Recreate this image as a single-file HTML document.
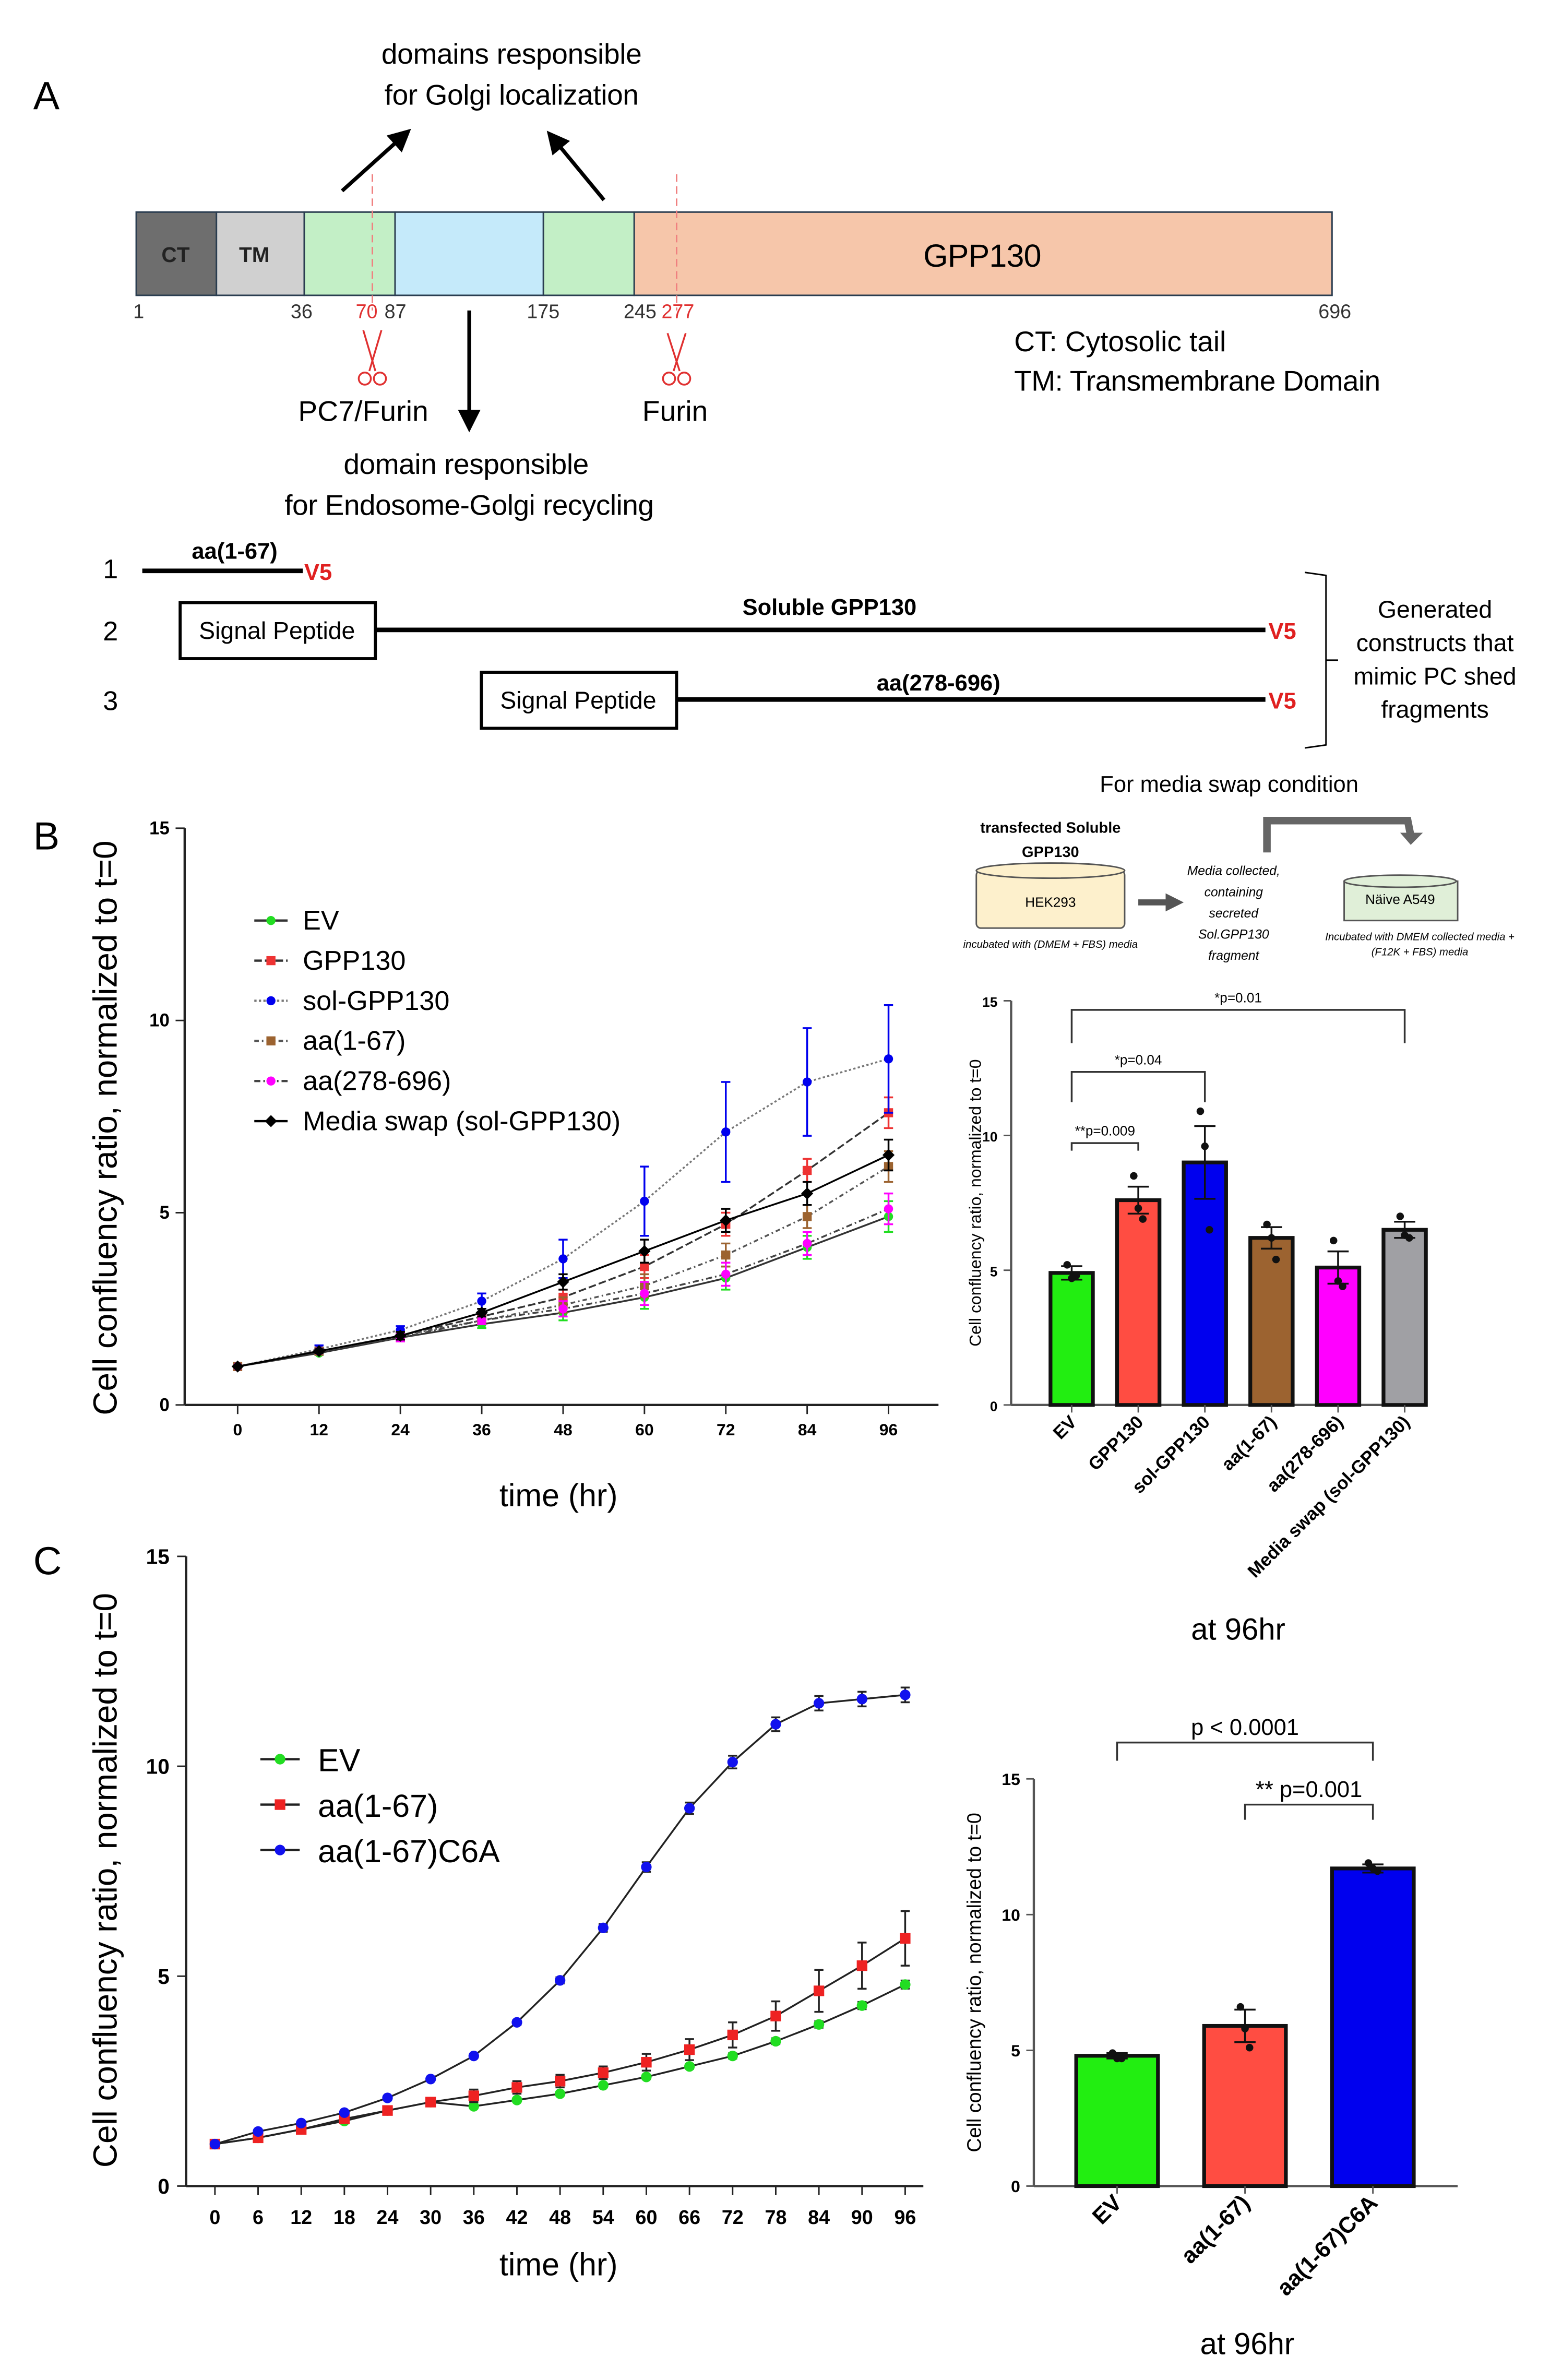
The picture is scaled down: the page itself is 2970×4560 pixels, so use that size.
<!DOCTYPE html>
<html><head><meta charset="utf-8"><style>
html,body{margin:0;padding:0;background:#fff}
svg{display:block}
text{font-family:"Liberation Sans",sans-serif}
</style></head><body>
<svg id="fig" width="2970" height="4560" viewBox="0 0 1024 1572" xmlns="http://www.w3.org/2000/svg">
<rect width="1024" height="1572" fill="#fff"/>
<defs>
<marker id="ah" markerWidth="6" markerHeight="6" refX="3" refY="3" orient="auto"><path d="M0,0 L6,3 L0,6 z" fill="#000"/></marker>
<marker id="ah2" markerWidth="3" markerHeight="3" refX="1.5" refY="1.5" orient="auto"><path d="M0,0 L3,1.5 L0,3 z" fill="#555"/></marker>
</defs>
<!-- Panel A -->
<g>
<text x="22" y="72" font-size="26">A</text>
<text x="338" y="42" font-size="19" text-anchor="middle" textLength="172">domains responsible</text>
<text x="338" y="69" font-size="19" text-anchor="middle" textLength="168">for Golgi localization</text>
<line x1="226" y1="126" x2="266" y2="90" stroke="#000" stroke-width="2.5" marker-end="url(#ah)"/>
<line x1="399" y1="132" x2="366" y2="92" stroke="#000" stroke-width="2.5" marker-end="url(#ah)"/>
<g stroke="#2a3d50" stroke-width="1">
<rect x="90" y="140" width="53" height="55" fill="#6e6e6e"/>
<rect x="143" y="140" width="58" height="55" fill="#d0d0d0"/>
<rect x="201" y="140" width="60" height="55" fill="#c3efc6"/>
<rect x="261" y="140" width="98" height="55" fill="#c5eafa"/>
<rect x="359" y="140" width="60" height="55" fill="#c3efc6"/>
<rect x="419" y="140" width="461" height="55" fill="#f6c6aa"/>
</g>
<line x1="246" y1="115" x2="246" y2="205" stroke="#f08080" stroke-dasharray="5,3"/>
<line x1="447" y1="115" x2="447" y2="205" stroke="#f08080" stroke-dasharray="5,3"/>
<text x="116" y="173" font-size="14" font-weight="bold" text-anchor="middle" fill="#222">CT</text>
<text x="168" y="173" font-size="14" font-weight="bold" text-anchor="middle" fill="#222">TM</text>
<text x="649" y="176" font-size="21" text-anchor="middle" textLength="78">GPP130</text>
<g font-size="13" fill="#333">
<text x="88" y="210">1</text><text x="192" y="210">36</text>
<text x="235" y="210" fill="#e03030">70</text><text x="254" y="210">87</text>
<text x="348" y="210">175</text><text x="412" y="210">245</text>
<text x="437" y="210" fill="#e03030">277</text><text x="871" y="210">696</text>
</g>
<g stroke="#e03030" fill="none" stroke-width="1.2">
<path d="M240,218 L248,245 M252,218 L244,245"/><circle cx="241" cy="250" r="4"/><circle cx="251" cy="250" r="4"/>
<path d="M441,220 L449,245 M453,220 L445,245"/><circle cx="442" cy="250" r="4"/><circle cx="452" cy="250" r="4"/>
</g>
<line x1="310" y1="205" x2="310" y2="278" stroke="#000" stroke-width="2.5" marker-end="url(#ah)"/>
<text x="240" y="278" font-size="19" text-anchor="middle" textLength="86">PC7/Furin</text>
<text x="446" y="278" font-size="19" text-anchor="middle">Furin</text>
<text x="308" y="313" font-size="19" text-anchor="middle" textLength="162">domain responsible</text>
<text x="310" y="340" font-size="19" text-anchor="middle" textLength="244">for Endosome-Golgi recycling</text>
<text x="670" y="232" font-size="19" textLength="140">CT: Cytosolic tail</text>
<text x="670" y="258" font-size="19" textLength="242">TM: Transmembrane Domain</text>
<g>
<text x="68" y="382" font-size="18">1</text><text x="68" y="423" font-size="18">2</text><text x="68" y="469" font-size="18">3</text>
<line x1="94" y1="377" x2="200" y2="377" stroke="#000" stroke-width="3"/>
<text x="155" y="369" font-size="15" font-weight="bold" text-anchor="middle">aa(1-67)</text>
<text x="201" y="383" font-size="15" font-weight="bold" fill="#e02020">V5</text>
<rect x="119" y="398" width="129" height="37" fill="#fff" stroke="#000" stroke-width="2"/>
<text x="183" y="422" font-size="16" text-anchor="middle">Signal Peptide</text>
<line x1="248" y1="416" x2="836" y2="416" stroke="#000" stroke-width="3"/>
<text x="548" y="406" font-size="15" font-weight="bold" text-anchor="middle">Soluble GPP130</text>
<text x="838" y="422" font-size="15" font-weight="bold" fill="#e02020">V5</text>
<rect x="318" y="444" width="129" height="37" fill="#fff" stroke="#000" stroke-width="2"/>
<text x="382" y="468" font-size="16" text-anchor="middle">Signal Peptide</text>
<line x1="447" y1="462" x2="836" y2="462" stroke="#000" stroke-width="3"/>
<text x="620" y="456" font-size="15" font-weight="bold" text-anchor="middle">aa(278-696)</text>
<text x="838" y="468" font-size="15" font-weight="bold" fill="#e02020">V5</text>
<path d="M862,378 L876,380 L876,492 L862,494 M876,436 L884,436" fill="none" stroke="#000"/>
<g font-size="16" text-anchor="middle"><text x="948" y="408">Generated</text><text x="948" y="430">constructs that</text><text x="948" y="452">mimic PC shed</text><text x="948" y="474">fragments</text></g>
</g>
</g>
<!-- Panel B schematic -->
<g>
<text x="812" y="523" font-size="15" text-anchor="middle">For media swap condition</text>
<text x="694" y="550" font-size="10" font-weight="bold" text-anchor="middle">transfected Soluble</text>
<text x="694" y="566" font-size="10" font-weight="bold" text-anchor="middle">GPP130</text>
<rect x="645" y="575" width="98" height="38" rx="3" fill="#fdf0cc" stroke="#555"/>
<ellipse cx="694" cy="575" rx="49" ry="5" fill="#fdf0cc" stroke="#555"/>
<text x="694" y="599" font-size="9" text-anchor="middle">HEK293</text>
<text x="694" y="626" font-size="7" font-style="italic" text-anchor="middle">incubated with (DMEM + FBS) media</text>
<path d="M752,596 L776,596" stroke="#555" stroke-width="4" marker-end="url(#ah2)"/>
<g font-size="8.5" font-style="italic" text-anchor="middle"><text x="815" y="578">Media collected,</text><text x="815" y="592">containing</text><text x="815" y="606">secreted</text><text x="815" y="620">Sol.GPP130</text><text x="815" y="634">fragment</text></g>
<path d="M837,563 L837,542 L930,542 L932,552" fill="none" stroke="#666" stroke-width="5"/>
<path d="M925,550 L940,550 L932,558 z" fill="#666"/>
<rect x="888" y="582" width="75" height="26" fill="#e0efd8" stroke="#555"/>
<ellipse cx="925" cy="582" rx="37" ry="4" fill="#e0efd8" stroke="#555"/>
<text x="925" y="597" font-size="9" text-anchor="middle">Näive A549</text>
<text x="938" y="621" font-size="7" font-style="italic" text-anchor="middle">Incubated with DMEM collected media +</text>
<text x="938" y="631" font-size="7" font-style="italic" text-anchor="middle">(F12K + FBS) media</text>
</g>
<text x="22" y="561" font-size="26">B</text>
<text x="22" y="1040" font-size="26">C</text>
<g id="lineB"></g>
<g id="barB"></g>
<g id="lineC"></g>
<g id="barC"></g>
</svg>
<script>
// Panel B line chart data
const bTimes = [0,12,24,36,48,60,72,84,96];
const bEV = [1,1.35,1.75,2.1,2.4,2.8,3.3,4.1,4.9];
const bGPP = [1,1.4,1.8,2.3,2.8,3.6,4.7,6.1,7.6];
const bSol = [1,1.45,1.95,2.7,3.8,5.3,7.1,8.4,9.0];
const bAa167 = [1,1.4,1.8,2.2,2.6,3.1,3.9,4.9,6.2];
const bAa278 = [1,1.4,1.75,2.2,2.5,2.9,3.4,4.2,5.1];
const bMedia = [1,1.4,1.8,2.4,3.2,4.0,4.8,5.5,6.5];
const bSolErr = [0,0.1,0.1,0.2,0.5,0.9,1.3,1.4,1.4];
const bOtherErr = [0,0.05,0.1,0.1,0.2,0.3,0.3,0.3,0.4];
const bYTicks = [0,5,10,15];
// Panel B bars
const bBarCats = ["EV","GPP130","sol-GPP130","aa(1-67)","aa(278-696)","Media swap (sol-GPP130)"];
const bBarVals = [4.9,7.6,9.0,6.2,5.1,6.5];
const bBarErr = [0.25,0.5,1.35,0.4,0.6,0.3];
const bBarPts = [[5.2,4.7,4.8],[8.5,7.3,6.9],[10.9,9.6,6.5],[6.7,6.2,5.4],[6.1,4.6,4.4],[7.0,6.3,6.2]];
const bBarColors = ["#22ee11","#ff4d42","#0000ee","#9c6330","#ff00ff","#a0a0a4"];
// Panel C line
const cTimes = [0,6,12,18,24,30,36,42,48,54,60,66,72,78,84,90,96];
const cEV = [1,1.15,1.35,1.55,1.8,2.0,1.9,2.05,2.2,2.4,2.6,2.85,3.1,3.45,3.85,4.3,4.8];
const cAa167 = [1,1.15,1.35,1.6,1.8,2.0,2.15,2.35,2.5,2.7,2.95,3.25,3.6,4.05,4.65,5.25,5.9];
const cC6A = [1,1.3,1.5,1.75,2.1,2.55,3.1,3.9,4.9,6.15,7.6,9.0,10.1,11.0,11.5,11.6,11.7];
const cAa167Err = [0,0,0.05,0.05,0.05,0.1,0.15,0.15,0.15,0.15,0.2,0.25,0.3,0.35,0.5,0.55,0.65];
const cXTicks = [0,6,12,18,24,30,36,42,48,54,60,66,72,78,84,90,96];
// Panel C bars
const cBarCats = ["EV","aa(1-67)","aa(1-67)C6A"];
const cBarVals = [4.8,5.9,11.7];
const cBarErr = [0.1,0.6,0.15];
const cBarPts = [[4.9,4.7,4.7],[6.6,5.8,5.1],[11.9,11.7,11.6]];
const cBarColors = ["#22ee11","#ff4d42","#0000ee"];

const NS="http://www.w3.org/2000/svg";
function mk(parent,tag,attrs,txt){const e=document.createElementNS(NS,tag);for(const k in attrs)e.setAttribute(k,attrs[k]);if(txt!==undefined)e.textContent=txt;parent.appendChild(e);return e;}

function marker(g,shape,x,y,c,s){
  if(shape==="sq") return mk(g,"rect",{x:x-s,y:y-s,width:2*s,height:2*s,fill:c});
  if(shape==="dia") return mk(g,"path",{d:`M${x},${y-s-1}L${x+s+1},${y}L${x},${y+s+1}L${x-s-1},${y}z`,fill:c});
  return mk(g,"circle",{cx:x,cy:y,r:s,fill:c});
}

// ---------- Line chart B ----------
(function(){
  const g=document.getElementById("lineB");
  const X=t=>157+t*(587-157)/96, Y=v=>928-v*(928-547)/15;
  mk(g,"line",{x1:122,y1:547,x2:122,y2:928,stroke:"#222","stroke-width":1.5});
  mk(g,"line",{x1:122,y1:928,x2:620,y2:928,stroke:"#222","stroke-width":1.5});
  bYTicks.forEach(v=>{mk(g,"line",{x1:116,y1:Y(v),x2:122,y2:Y(v),stroke:"#222"});
    const t=mk(g,"text",{x:112,y:Y(v)+4,"font-size":12,"font-weight":"bold","text-anchor":"end"},v);
    
    });
  bTimes.forEach(v=>{mk(g,"line",{x1:X(v),y1:928,x2:X(v),y2:934,stroke:"#222"});
    const t=mk(g,"text",{x:X(v),y:948,"font-size":11,"font-weight":"bold","text-anchor":"middle"},v);
    
    });
  const yl=mk(g,"text",{x:0,y:0,"font-size":22,"text-anchor":"middle",transform:"translate(77,745) rotate(-90)"},"Cell confluency ratio, normalized to t=0");
  
  
  const xl=mk(g,"text",{x:369,y:995,"font-size":21,"text-anchor":"middle"},"time (hr)");
  
  
  const series=[
    {n:"EV",d:bEV,e:bOtherErr,c:"#22dd22",sh:"ci",dash:"",lc:"#333"},
    {n:"GPP130",d:bGPP,e:bOtherErr,c:"#ee3333",sh:"sq",dash:"5,2",lc:"#333"},
    {n:"sol-GPP130",d:bSol,e:bSolErr,c:"#0000ee",sh:"ci",dash:"1.5,1.5",lc:"#777"},
    {n:"aa(1-67)",d:bAa167,e:bOtherErr,c:"#9c6330",sh:"sq",dash:"3,2,1,2",lc:"#555"},
    {n:"aa(278-696)",d:bAa278,e:bOtherErr,c:"#ff00ff",sh:"ci",dash:"4,2,1,2",lc:"#444"},
    {n:"Media swap (sol-GPP130)",d:bMedia,e:bOtherErr,c:"#000",sh:"dia",dash:"",lc:"#000"}];
  series.forEach((s,i)=>{
    const sg=mk(g,"g",{});
    
    
    mk(sg,"polyline",{points:s.d.map((v,j)=>X(bTimes[j])+","+Y(v)).join(" "),fill:"none",stroke:s.lc,"stroke-width":1.2,"stroke-dasharray":s.dash});
    s.d.forEach((v,j)=>{const x=X(bTimes[j]);const e=s.e[j];
      if(e>0){mk(sg,"path",{d:`M${x},${Y(v-e)}V${Y(v+e)}M${x-3},${Y(v+e)}H${x+3}M${x-3},${Y(v-e)}H${x+3}`,stroke:s.c,"stroke-width":1.2});}
      const m=marker(sg,s.sh,x,Y(v),s.c,3);
      
      });
    const ly=608+i*26.5;
    const lg=mk(g,"g",{});
    
    
    mk(lg,"line",{x1:168,y1:ly,x2:190,y2:ly,stroke:s.lc,"stroke-width":1.5,"stroke-dasharray":s.dash});
    marker(lg,s.sh,179,ly,s.c,3);
    mk(lg,"text",{x:200,y:ly+6,"font-size":18},s.n);
  });
})();

// ---------- generic bar chart ----------
function barChart(id,cfg){
  const g=document.getElementById(id);
  const Y=v=>cfg.y0-v*(cfg.y0-cfg.y15)/15;
  mk(g,"line",{x1:cfg.ax,y1:cfg.y15,x2:cfg.ax,y2:cfg.y0,stroke:"#555","stroke-width":1.5});
  mk(g,"line",{x1:cfg.ax,y1:cfg.y0,x2:cfg.axEnd,y2:cfg.y0,stroke:"#555","stroke-width":1.5});
  [0,5,10,15].forEach(v=>{mk(g,"line",{x1:cfg.ax-5,y1:Y(v),x2:cfg.ax,y2:Y(v),stroke:"#555"});
    const t=mk(g,"text",{x:cfg.ax-9,y:Y(v)+4,"font-size":cfg.tickFs,"font-weight":"bold","text-anchor":"end"},v);
    
    });
  cfg.cats.forEach((c,i)=>{
    const cx=cfg.x0+i*cfg.step, v=cfg.vals[i], w=cfg.w;
    const r=mk(g,"rect",{x:cx-w/2,y:Y(v),width:w,height:cfg.y0-Y(v),fill:cfg.colors[i],stroke:"#111","stroke-width":2.5});
    
    
    const e=cfg.err[i];
    mk(g,"path",{d:`M${cx},${Y(v-e)}V${Y(v+e)}M${cx-7},${Y(v+e)}H${cx+7}M${cx-7},${Y(v-e)}H${cx+7}`,stroke:"#111","stroke-width":1.2,fill:"none"});
    cfg.pts[i].forEach((p,k)=>{const m=mk(g,"circle",{cx:cx+(k-1)*3,cy:Y(p),r:2.5,fill:"#111"});
      
      });
    mk(g,"line",{x1:cx,y1:cfg.y0,x2:cx,y2:cfg.y0+5,stroke:"#555"});
    const t=mk(g,"text",{x:0,y:0,"font-size":cfg.catFs,"font-weight":"bold","text-anchor":"end",transform:`translate(${cx+4},${cfg.y0+12}) rotate(-45)`},c);
    
    
  });
  const yl=mk(g,"text",{x:0,y:0,"font-size":cfg.ylFs,"text-anchor":"middle",transform:`translate(${cfg.ylx},${(cfg.y0+cfg.y15)/2}) rotate(-90)`},"Cell confluency ratio, normalized to t=0");
  
  
  const xt=mk(g,"text",{x:cfg.titleX,y:cfg.titleY,"font-size":20,"text-anchor":"middle"},"at 96hr");
  
  
  cfg.brackets.forEach(b=>{
    const x1=cfg.x0+b.a*cfg.step,x2=cfg.x0+b.b*cfg.step;
    const bg=mk(g,"g",{});
    
    
    mk(bg,"path",{d:`M${x1},${b.y+b.h}V${b.y}H${x2}V${b.y+b.h}`,fill:"none",stroke:"#333","stroke-width":1.2});
    mk(bg,"text",{x:(x1+x2)/2+(b.dx||0),y:b.y-5,"font-size":b.fs,"text-anchor":"middle"},b.t);
  });
}
barChart("barB",{ax:668,axEnd:943,y0:928,y15:661,x0:708,step:44,w:28,cats:bBarCats,vals:bBarVals,err:bBarErr,pts:bBarPts,colors:bBarColors,tickFs:9,catFs:12,ylFs:11,ylx:648,titleX:818,titleY:1083,
  brackets:[{a:0,b:5,y:667,h:22,t:"*p=0.01",fs:9},{a:0,b:2,y:708,h:20,t:"*p=0.04",fs:9},{a:0,b:1,y:755,h:5,t:"**p=0.009",fs:9}]});
barChart("barC",{ax:683,axEnd:963,y0:1444,y15:1175,x0:738,step:84.5,w:54,cats:cBarCats,vals:cBarVals,err:cBarErr,pts:cBarPts,colors:cBarColors,tickFs:11,catFs:15,ylFs:13,ylx:648,titleX:824,titleY:1555,
  brackets:[{a:0,b:2,y:1151,h:12,t:"p < 0.0001",fs:15},{a:1,b:2,y:1192,h:10,t:"** p=0.001",fs:15,dx:0}]});

// ---------- Line chart C ----------
(function(){
  const g=document.getElementById("lineC");
  const X=t=>142+t*(598-142)/96, Y=v=>1444-v*(1444-1028)/15;
  mk(g,"line",{x1:123,y1:1028,x2:123,y2:1444,stroke:"#222","stroke-width":1.5});
  mk(g,"line",{x1:123,y1:1444,x2:610,y2:1444,stroke:"#222","stroke-width":1.5});
  [0,5,10,15].forEach(v=>{mk(g,"line",{x1:117,y1:Y(v),x2:123,y2:Y(v),stroke:"#222"});
    const t=mk(g,"text",{x:112,y:Y(v)+5,"font-size":14,"font-weight":"bold","text-anchor":"end"},v);
    
    });
  cXTicks.forEach(v=>{mk(g,"line",{x1:X(v),y1:1444,x2:X(v),y2:1450,stroke:"#222"});
    const t=mk(g,"text",{x:X(v),y:1469,"font-size":13,"font-weight":"bold","text-anchor":"middle"},v);
    
    });
  const yl=mk(g,"text",{x:0,y:0,"font-size":22,"text-anchor":"middle",transform:"translate(77,1242) rotate(-90)"},"Cell confluency ratio, normalized to t=0");
  
  
  const xl=mk(g,"text",{x:369,y:1503,"font-size":21,"text-anchor":"middle"},"time (hr)");
  
  
  const series=[{n:"EV",d:cEV,c:"#22dd22",sh:"ci",e:cEV.map(v=>v*0.02)},
    {n:"aa(1-67)",d:cAa167,c:"#ee2222",sh:"sq",e:cAa167Err},
    {n:"aa(1-67)C6A",d:cC6A,c:"#1111ee",sh:"ci",e:cC6A.map(v=>v*0.015)}];
  series.forEach((s,i)=>{
    const sg=mk(g,"g",{});
    
    
    mk(sg,"polyline",{points:s.d.map((v,j)=>X(cTimes[j])+","+Y(v)).join(" "),fill:"none",stroke:"#222","stroke-width":1.2});
    s.d.forEach((v,j)=>{const x=X(cTimes[j]),e=s.e[j];
      if(e>0.05)mk(sg,"path",{d:`M${x},${Y(v-e)}V${Y(v+e)}M${x-3},${Y(v+e)}H${x+3}M${x-3},${Y(v-e)}H${x+3}`,stroke:"#222","stroke-width":1.2});
      const m=marker(sg,s.sh,x,Y(v),s.c,3.5);
      
      });
    const ly=1162+i*30;
    const lg=mk(g,"g",{});
    
    
    mk(lg,"line",{x1:172,y1:ly,x2:198,y2:ly,stroke:"#222","stroke-width":1.5});
    marker(lg,s.sh,185,ly,s.c,3.5);
    mk(lg,"text",{x:210,y:ly+8,"font-size":21},s.n);
  });
})();
</script>
</body></html>
